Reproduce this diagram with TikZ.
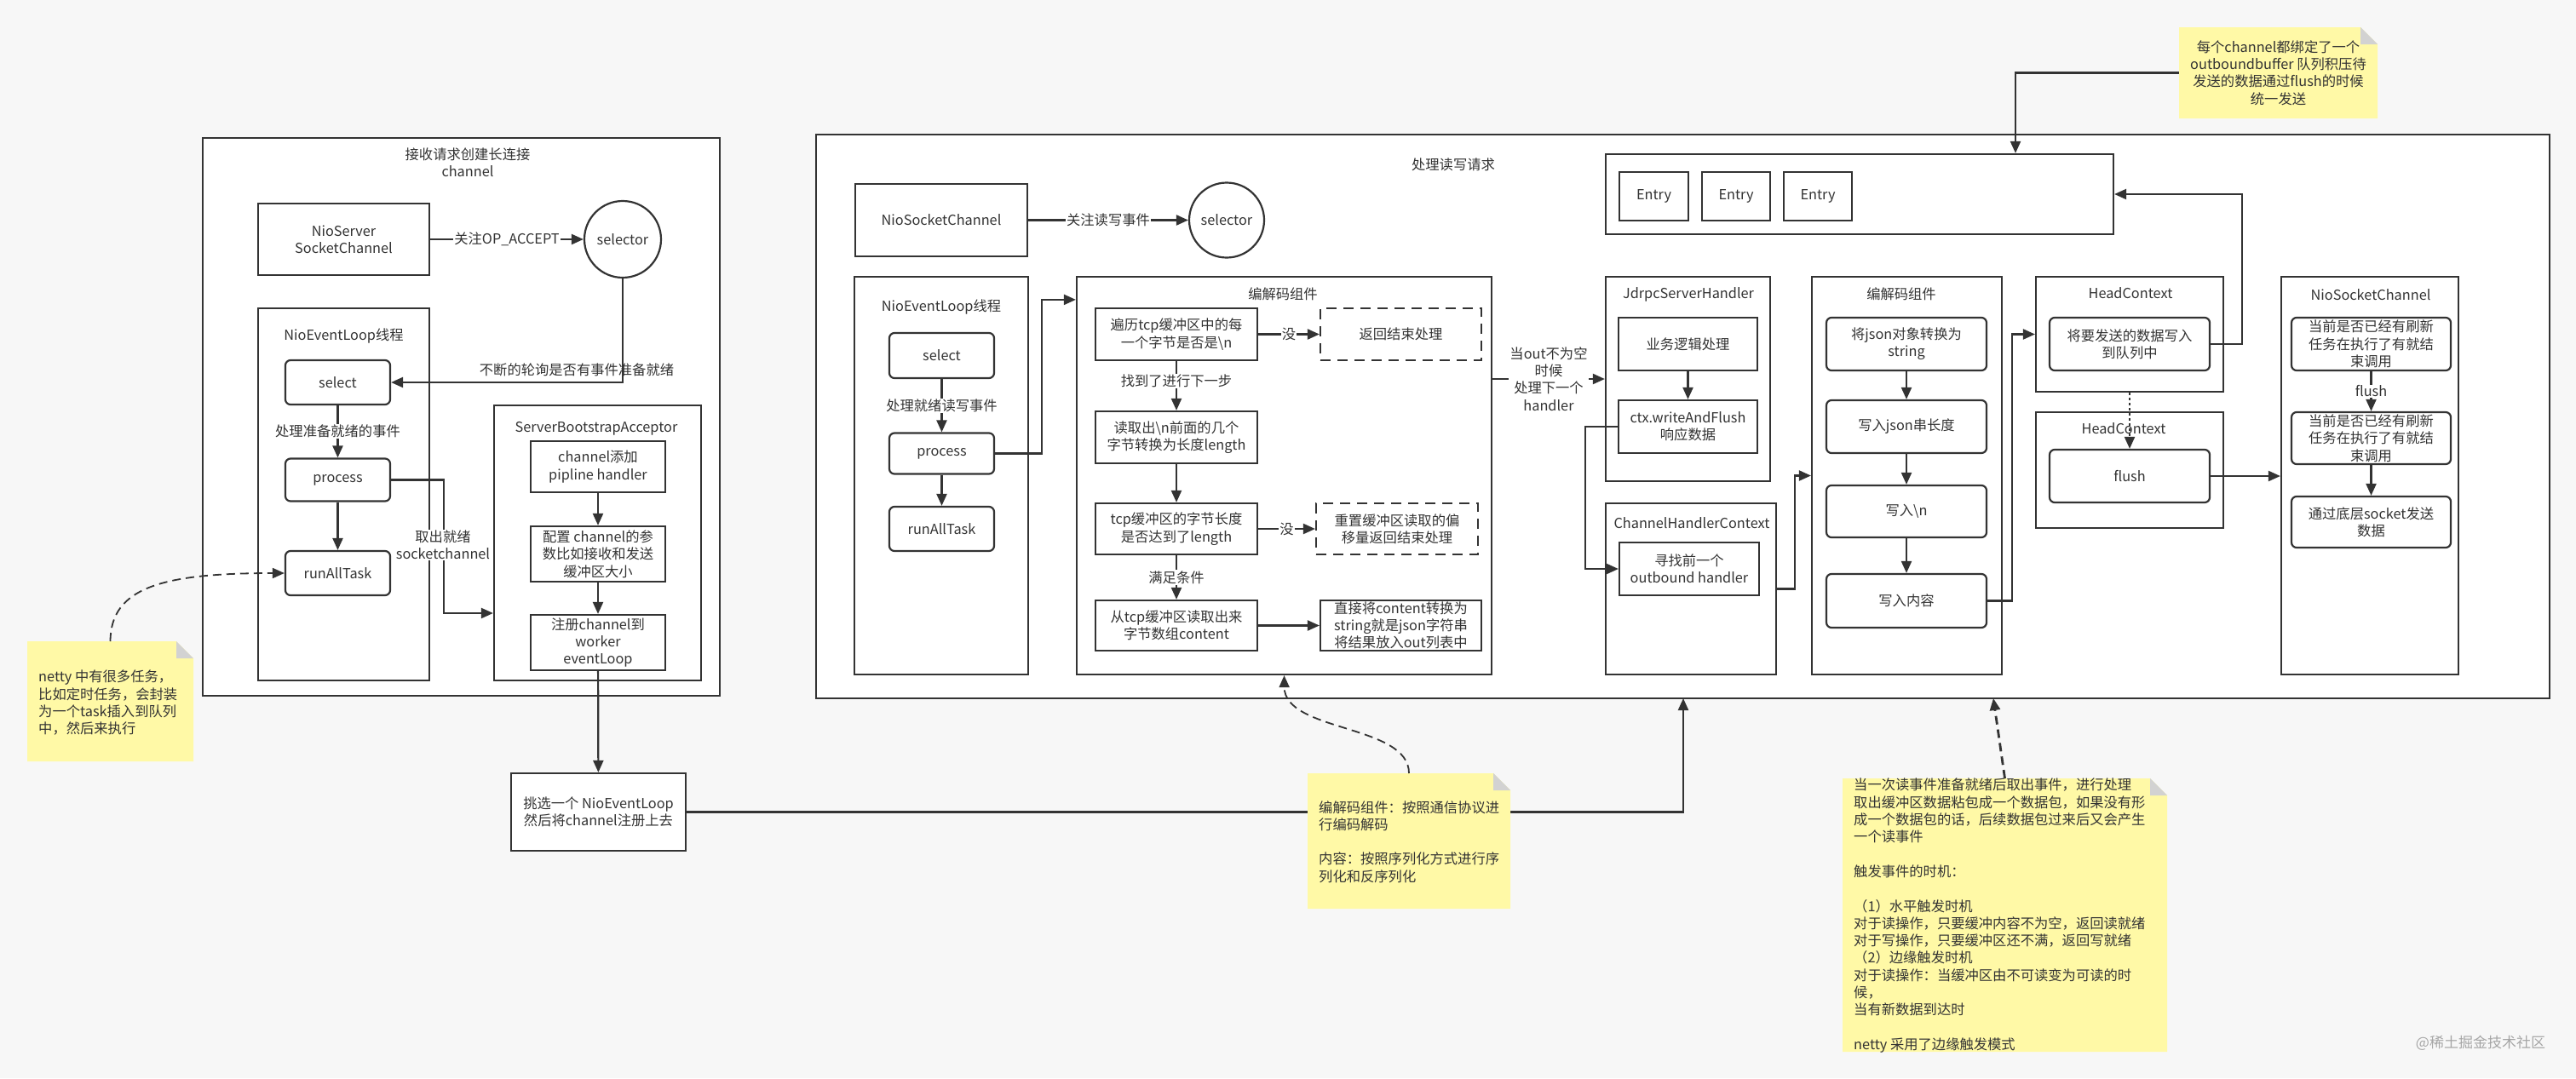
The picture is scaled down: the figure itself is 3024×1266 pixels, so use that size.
\documentclass[tikz,border=0pt]{standalone}
\usepackage{fontspec}
\setmainfont{Noto Sans CJK SC}
\usetikzlibrary{arrows.meta,calc}
\definecolor{bgc}{HTML}{F7F7F7}
\definecolor{lnc}{HTML}{333333}
\definecolor{notey}{HTML}{FFF9A6}
\definecolor{foldc}{HTML}{D2D2D2}
\newcommand\notefill[1]{%
  \fill[notey] (#1.south west) -- (#1.north west) -- ([xshift=-20pt]#1.north east) -- ([yshift=-20pt]#1.north east) -- (#1.south east) -- cycle;
  \fill[foldc] ([xshift=-20pt]#1.north east) -- ([xshift=-20pt,yshift=-20pt]#1.north east) -- ([yshift=-20pt]#1.north east) -- cycle;}
\begin{document}
\begin{tikzpicture}[x=1pt,y=-1pt,
  every node/.style={font=\fontsize{16.3}{20.3}\selectfont, text=lnc, align=center},
  box/.style={draw=lnc, line width=2.2pt, fill=white, inner sep=0pt},
  rbox/.style={box, rounded corners=6pt},
  dbox/.style={box, dash pattern=on 12pt off 8pt},
  arr/.style={draw=lnc, line width=2.2pt, -{Triangle[length=14pt,width=12pt]}},
  lbl/.style={fill=white, inner sep=1pt},
  dsh/.style={draw=lnc, line width=1.8pt, dash pattern=on 10pt off 6pt, -{Triangle[length=14pt,width=12pt]}},
  dshthick/.style={draw=lnc, line width=2.8pt, dash pattern=on 10pt off 6pt, -{Triangle[length=14pt,width=12pt]}},
  dotarr/.style={draw=lnc, line width=2.2pt, dash pattern=on 3pt off 3pt, -{Triangle[length=14pt,width=12pt]}},
  notebox/.style={inner sep=0pt, outer sep=0pt},
  plaintext/.style={inner sep=0pt},
]
\path[fill=bgc] (0,0) rectangle (3024,1266);

% ---------- left part ----------
\node[box, minimum width=607pt, minimum height=655pt] (acc) at (541.5,489.5) {};
\node[plaintext] (accT) at (549,191) {接收请求创建长连接\\channel};
\node[box, minimum width=201pt, minimum height=84pt] (nss) at (403.5,281) {NioServer\\SocketChannel};
\node[box, circle, minimum size=90pt] (sel1) at (731,281) {selector};
\node[box, minimum width=201pt, minimum height=437pt] (nel1) at (403.5,580.5) {};
\node[plaintext] (nel1T) at (403.5,394) {NioEventLoop线程};
\node[rbox, minimum width=123pt, minimum height=52pt] (sel1b) at (396.5,449) {select};
\node[rbox, minimum width=123pt, minimum height=50pt] (proc1) at (396.5,563.5) {process};
\node[rbox, minimum width=123pt, minimum height=52pt] (run1) at (396.5,673) {runAllTask};
\node[box, minimum width=243pt, minimum height=323pt] (sba) at (701.5,637.5) {};
\node[plaintext] (sbaT) at (700,503) {ServerBootstrapAcceptor};
\node[box, minimum width=158pt, minimum height=60pt] (addh) at (702,548) {channel添加\\pipline handler};
\node[box, minimum width=158pt, minimum height=65pt] (cfg) at (702,650.5) {配置 channel的参\\数比如接收和发送\\缓冲区大小};
\node[box, minimum width=158pt, minimum height=65pt] (reg) at (702,754.5) {注册channel到\\worker\\eventLoop};
\node[box, minimum width=205pt, minimum height=91pt] (pick) at (702.5,953.5) {挑选一个 NioEventLoop\\然后将channel注册上去};

% ---------- big right part ----------
\node[box, minimum width=2035pt, minimum height=662pt] (rw) at (1975.5,489) {};
\node[plaintext] (rwT) at (1706,193) {处理读写请求};
\node[box, minimum width=202pt, minimum height=85pt] (nsc1) at (1105,258.5) {NioSocketChannel};
\node[box, circle, minimum size=88pt] (sel2) at (1440,258.5) {selector};
\node[box, minimum width=204pt, minimum height=467pt] (nel2) at (1105,558.5) {};
\node[plaintext] (nel2T) at (1105,360) {NioEventLoop线程};
\node[rbox, minimum width=123pt, minimum height=53pt] (sel2b) at (1105.5,417.5) {select};
\node[rbox, minimum width=123pt, minimum height=48pt] (proc2) at (1105.5,532.5) {process};
\node[rbox, minimum width=123pt, minimum height=52pt] (run2) at (1105.5,621) {runAllTask};

\node[box, minimum width=487pt, minimum height=467pt] (cod1) at (1507.5,558.5) {};
\node[plaintext] (cod1T) at (1506,345) {编解码组件};
\node[box, minimum width=190pt, minimum height=61pt] (ca) at (1381,392.5) {遍历tcp缓冲区中的每\\一个字节是否是\textbackslash n};
\node[dbox, minimum width=189pt, minimum height=61pt] (cr1) at (1644.5,392.5) {返回结束处理};
\node[box, minimum width=190pt, minimum height=61pt] (cb) at (1381,513.5) {读取出\textbackslash n前面的几个\\字节转换为长度length};
\node[box, minimum width=190pt, minimum height=60pt] (cc) at (1381,621) {tcp缓冲区的字节长度\\是否达到了length};
\node[dbox, minimum width=190pt, minimum height=60pt] (cr2) at (1640,621) {重置缓冲区读取的偏\\移量返回结束处理};
\node[box, minimum width=190pt, minimum height=59pt] (cd) at (1381,734.5) {从tcp缓冲区读取出来\\字节数组content};
\node[box, minimum width=189pt, minimum height=59pt] (ce) at (1644.5,734.5) {直接将content转换为\\string就是json字符串\\将结果放入out列表中};

\node[box, minimum width=596pt, minimum height=94pt] (buf) at (2183,228) {};
\node[box, minimum width=81pt, minimum height=57pt] (e1) at (1941.5,230.5) {Entry};
\node[box, minimum width=80pt, minimum height=57pt] (e2) at (2038,230.5) {Entry};
\node[box, minimum width=80pt, minimum height=57pt] (e3) at (2134,230.5) {Entry};

\node[box, minimum width=193pt, minimum height=240pt] (jd) at (1981.5,445) {};
\node[plaintext] (jdT) at (1982,346) {JdrpcServerHandler};
\node[box, minimum width=163pt, minimum height=62pt] (biz) at (1981.5,404) {业务逻辑处理};
\node[box, minimum width=163pt, minimum height=62pt] (ctx) at (1981.5,501) {ctx.writeAndFlush\\响应数据};
\node[box, minimum width=200pt, minimum height=201pt] (chc) at (1985,691.5) {};
\node[plaintext] (chcT) at (1986,614) {ChannelHandlerContext};
\node[box, minimum width=164pt, minimum height=62pt] (find) at (1983,668) {寻找前一个\\outbound handler};

\node[box, minimum width=223pt, minimum height=467pt] (cod2) at (2238.5,558.5) {};
\node[plaintext] (cod2T) at (2232,345) {编解码组件};
\node[rbox, minimum width=188pt, minimum height=62pt] (j1) at (2238,404) {将json对象转换为\\string};
\node[rbox, minimum width=188pt, minimum height=62pt] (j2) at (2238,501) {写入json串长度};
\node[rbox, minimum width=188pt, minimum height=61pt] (j3) at (2238,600.5) {写入\textbackslash n};
\node[rbox, minimum width=188pt, minimum height=63pt] (j4) at (2238,705.5) {写入内容};

\node[box, minimum width=220pt, minimum height=135pt] (hc1) at (2500,392.5) {};
\node[plaintext] (hc1T) at (2501,344) {HeadContext};
\node[rbox, minimum width=188pt, minimum height=62pt] (hcw) at (2500,404) {将要发送的数据写入\\到队列中};
\node[box, minimum width=220pt, minimum height=136pt] (hc2) at (2500,552) {};
\node[plaintext] (hc2T) at (2493,503) {HeadContext};
\node[rbox, minimum width=188pt, minimum height=62pt] (fl) at (2500,559) {flush};

\node[box, minimum width=208pt, minimum height=467pt] (nsc2) at (2782,558.5) {};
\node[plaintext] (nsc2T) at (2783,346) {NioSocketChannel};
\node[rbox, minimum width=187pt, minimum height=62pt] (n1) at (2783.5,404) {当前是否已经有刷新\\任务在执行了有就结\\束调用};
\node[rbox, minimum width=187pt, minimum height=61pt] (n2) at (2783.5,514.5) {当前是否已经有刷新\\任务在执行了有就结\\束调用};
\node[rbox, minimum width=187pt, minimum height=60pt] (n3) at (2783.5,613) {通过底层socket发送\\数据};

% note anchors
\node[notebox, minimum width=233pt, minimum height=107pt] (note1) at (2674.5,85.5) {};
\node[notebox, minimum width=195pt, minimum height=141pt] (note2) at (129.5,823.5) {};
\node[notebox, minimum width=238pt, minimum height=159pt] (note3) at (1654,987.5) {};
\node[notebox, minimum width=381pt, minimum height=321pt] (note4) at (2353.5,1074.5) {};
\coordinate (rwin) at (1976,820);
\coordinate (rwin2) at (2340,820);

% ---------- connectors ----------
\draw[arr] (nss) -- (sel1) node[lbl, midway] (l1) {关注OP\_ACCEPT};
\draw[arr] (sel1.south) |- (sel1b.east);
\node[plaintext] (l2) at (677,434) {不断的轮询是否有事件准备就绪};
\draw[arr] (sel1b) -- (proc1) node[lbl, midway] (l3) {处理准备就绪的事件};
\draw[arr] (proc1) -- (run1);
\draw[arr] (proc1.east) -- ++(62,0) |- ([yshift=-82.5pt]sba.west);
\node[lbl] (l4) at (520,640) {取出就绪\\socketchannel};
\draw[arr] (addh) -- (cfg);
\draw[arr] (cfg) -- (reg);
\draw[arr] (reg) -- (pick);
\draw[arr] (pick.east) -| (rwin);

\draw[arr] (nsc1) -- (sel2) node[lbl, midway] (l5) {关注读写事件};
\draw[arr] (sel2b) -- (proc2) node[lbl, midway] (l6) {处理就绪读写事件};
\draw[arr] (proc2) -- (run2);
\draw[arr] (proc2.east) -- ++(55,0) |- ([yshift=-28pt]cod1.north west);

\draw[arr] (ca) -- (cr1) node[lbl, midway] (l7) {没};
\draw[arr] (ca) -- (cb) node[lbl, pos=0.4] (l8) {找到了进行下一步};
\draw[arr] (cb) -- (cc);
\draw[arr] (cc) -- (cr2) node[lbl, midway] (l9) {没};
\draw[arr] (cc) -- (cd) node[lbl, midway] (l10) {满足条件};
\draw[arr] (cd) -- (ce);

\draw[arr] (cod1.east |- jd.west) -- (jd.west) node[lbl, midway] (l11) {当out不为空\\时候\\处理下一个\\handler};
\draw[arr] (biz) -- (ctx);
\draw[arr] (ctx.west) -- ++(-38,0) |- (find.west);
\draw[arr] (chc.east) -- ++(21,0) |- (cod2.west);
\draw[arr] (j1) -- (j2);
\draw[arr] (j2) -- (j3);
\draw[arr] (j3) -- (j4);
\draw[arr] (j4.east) -- ++(29,0) |- (hc1.west);
\draw[arr] (hcw.east) -- ++(37,0) |- (buf.east);
\draw[arr] (note1.west) -| ([xshift=183pt]buf.north);
\draw[dotarr] (hc1.south) -- (fl.north);
\draw[arr] (fl.east) -- (nsc2.west |- fl.east);
\draw[arr] (n1) -- (n2) node[lbl, midway] (l12) {flush};
\draw[arr] (n2) -- (n3);

% ---------- notes ----------
\notefill{note1}
\notefill{note2}
\notefill{note3}
\notefill{note4}
\node[plaintext] (note1T) at (2674.5,85.5) {每个channel都绑定了一个\\outboundbuffer 队列积压待\\发送的数据通过flush的时候\\统一发送};
\node[plaintext, anchor=north west, align=left] (note2T) at (45,787) {netty 中有很多任务，\\比如定时任务，会封装\\为一个task插入到队列\\中，然后来执行};
\node[plaintext, anchor=north west, align=left] (note3T) at (1548,940) {编解码组件：按照通信协议进\\行编码解码\\[20.3pt]内容：按照序列化方式进行序\\列化和反序列化};
\node[plaintext, anchor=north west, align=left] (note4T) at (2176,914) {当一次读事件准备就绪后取出事件，进行处理\\取出缓冲区数据粘包成一个数据包，如果没有形\\成一个数据包的话，后续数据包过来后又会产生\\一个读事件\\[20.3pt]触发事件的时机：\\[20.3pt]（1）水平触发时机\\对于读操作，只要缓冲内容不为空，返回读就绪\\对于写操作，只要缓冲区还不满，返回写就绪\\（2）边缘触发时机\\对于读操作：当缓冲区由不可读变为可读的时\\候，\\当有新数据到达时\\[20.3pt]netty 采用了边缘触发模式};

\draw[dsh] (note2.north) .. controls (130,690) and (190,673) .. (run1.west);
\draw[dsh] (note3.north) .. controls (1654,850) and (1508,860) .. (cod1.south);
\draw[dshthick] (note4.north) -- (rwin2);

\node[plaintext, text=black!35, font=\fontsize{17}{20}\selectfont] (wm) at (2912,1225) {@稀土掘金技术社区};
\end{tikzpicture}
\end{document}
